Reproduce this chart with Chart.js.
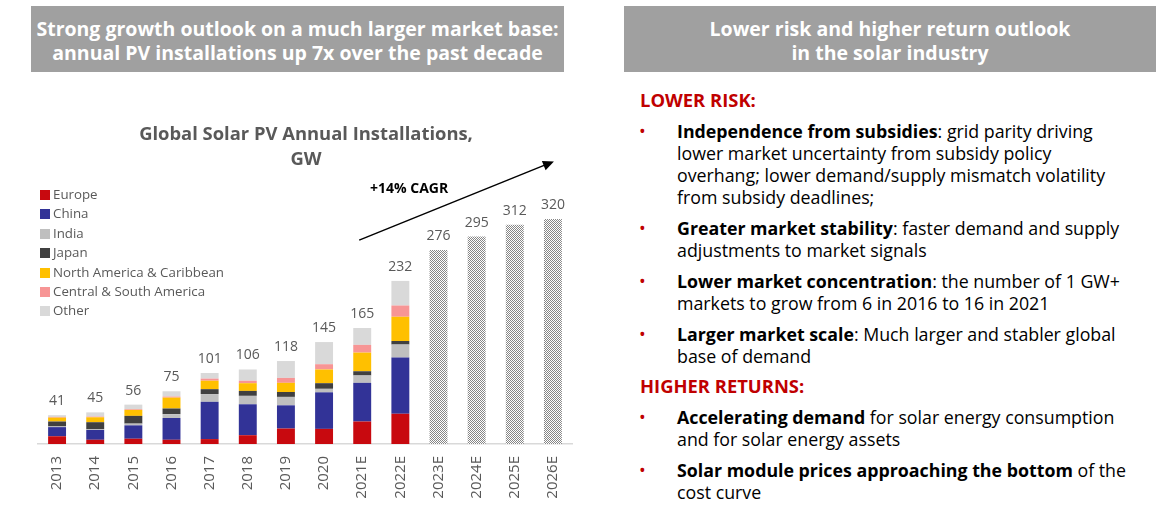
<!DOCTYPE html>
<html>
<head>
<meta charset="utf-8">
<script src="https://cdn.jsdelivr.net/npm/chart.js@4.4.1/dist/chart.umd.min.js"></script>
<style>
    body { margin: 0; width: 1174px; height: 514px; background: #fff; font-family: "Open Sans", sans-serif; position: relative; overflow: hidden; }
    .header { position: absolute; top: 6px; height: 66px; background: #a0a0a0; color: #fff; font-weight: bold; font-size: 19.5px; line-height: 24px; text-align: center; box-sizing: border-box; padding-top: 11px; white-space: nowrap; }
    #chartBox { position: absolute; left: 0; top: 80px; width: 590px; height: 434px; }
    .title { position: absolute; left: 0; width: 612px; top: 120px; text-align: center; font-weight: bold; font-size: 18.4px; line-height: 25px; color: #595959; }
    .legend { position: absolute; left: 40px; top: 185px; font-size: 13.3px; color: #595959; }
    .legend div { height: 19.4px; line-height: 19.4px; white-space: nowrap; }
    .legend span { display: inline-block; width: 10px; height: 10px; margin-right: 3px; vertical-align: -1px; }
    .cagr { position: absolute; left: 370px; top: 178px; font-size: 14px; font-weight: bold; color: #000; }
    .right { position: absolute; left: 620px; top: 89px; width: 554px; font-size: 17.8px; line-height: 22px; color: #000; }
    .right h4 { margin: 0; padding-left: 20px; font-size: 18.4px; color: #c00000; font-weight: bold; white-space: nowrap; }
    .right p { margin: 9px 0 0 0; padding-left: 57px; position: relative; white-space: nowrap; }
    .right p::before { content: "•"; color: #c00000; position: absolute; left: 19px; top: 0; }
    .right h4.second { margin-top: 8px; }
</style>
</head>
<body>
<div class="header" style="left:31px;width:533px;">Strong growth outlook on a much larger market base:<br>annual PV installations up 7x over the past decade</div>
<div class="header" style="left:624px;width:532px;">Lower risk and higher return outlook<br>in the solar industry</div>

<div id="chartBox"><canvas id="pvChart"></canvas></div>
<div class="title">Global Solar PV Annual Installations,<br>GW</div>
<div class="legend" id="legend"></div>
<div class="cagr">+14% CAGR</div>

<div class="right">
    <h4>LOWER RISK:</h4>
    <p><b>Independence from subsidies</b>: grid parity driving<br>lower market uncertainty from subsidy policy<br>overhang; lower demand/supply mismatch volatility<br>from subsidy deadlines;</p>
    <p><b>Greater market stability</b>: faster demand and supply<br>adjustments to market signals</p>
    <p><b>Lower market concentration</b>: the number of 1 GW+<br>markets to grow from 6 in 2016 to 16 in 2021</p>
    <p><b>Larger market scale</b>: Much larger and stabler global<br>base of demand</p>
    <h4 class="second">HIGHER RETURNS:</h4>
    <p><b>Accelerating demand</b> for solar energy consumption<br>and for solar energy assets</p>
    <p><b>Solar module prices approaching the bottom</b> of the<br>cost curve</p>
</div>

<script>
// --- Data ---
const years = ['2013', '2014', '2015', '2016', '2017', '2018', '2019', '2020', '2021E', '2022E', '2023E', '2024E', '2025E', '2026E'];

const europe  = [11,   6,   7.5, 6,   7,  12.5, 22, 21.5, 32,   43];
const china   = [13,   14,  19,  31,  53, 44,   33, 52,   55,   80];
const india   = [1,    1,   2.5, 5.5, 11, 12,   12, 5,    10.5, 18.5];
const japan   = [7,    10,  11,  8,   7,  7,    7,  8,    6,    5];
const nAmerica = [5.5, 7,   8.5, 15.5, 12, 11,  13, 19.5, 26.5, 34.5];
const csAmerica = [1,  1,   1,   1.5, 3,  3.5,  7,  7.5,  11,   16];
const other   = [2.5,  6,   6.5, 7.5, 8,  16,   24, 31.5, 24,   35];
const forecast = [null, null, null, null, null, null, null, null, null, null, 276, 295, 312, 320];

const totals = [41, 45, 56, 75, 101, 106, 118, 145, 165, 232, 276, 295, 312, 320];

const seriesNames = ['Europe', 'China', 'India', 'Japan', 'North America & Caribbean', 'Central & South America', 'Other'];
const seriesColors = ['#c8090f', '#323397', '#bfbfbf', '#404040', '#ffc000', '#f79595', '#d9d9d9'];
const seriesData = [europe, china, india, japan, nAmerica, csAmerica, other];

// --- Hatched fill for forecast bars ---
function makePattern() {
    const c = document.createElement('canvas');
    c.width = 2; c.height = 2;
    const g = c.getContext('2d');
    g.fillStyle = '#ffffff';
    g.fillRect(0, 0, 2, 2);
    g.fillStyle = '#868686';
    g.fillRect(0, 0, 1, 1);
    g.fillRect(1, 1, 1, 1);
    return g.createPattern(c, 'repeat');
}

// --- Legend (html) ---
const legendEl = document.getElementById('legend');
seriesNames.forEach((name, i) => {
    legendEl.innerHTML += `<div><span style="background:${seriesColors[i]}"></span>${name}</div>`;
});

// --- Plugins ---
const totalLabels = {
    id: 'totalLabels',
    afterDatasetsDraw(chart) {
        const ctx = chart.ctx;
        const x = chart.scales.x, y = chart.scales.y;
        ctx.save();
        ctx.font = '14px "Open Sans"';
        ctx.fillStyle = '#595959';
        ctx.textAlign = 'center';
        ctx.textBaseline = 'bottom';
        totals.forEach((t, i) => {
            ctx.fillText(String(t), x.getPixelForValue(i), y.getPixelForValue(t) - 7);
        });
        ctx.restore();
    }
};

const cagrArrow = {
    id: 'cagrArrow',
    afterDraw(chart) {
        const ctx = chart.ctx;
        const x = chart.scales.x, y = chart.scales.y;
        const x0 = x.getPixelForValue(8) - 3, y0 = y.getPixelForValue(290);
        const x1 = x.getPixelForValue(13) + 1, y1 = y.getPixelForValue(402);
        const ang = Math.atan2(y1 - y0, x1 - x0);
        ctx.save();
        ctx.strokeStyle = '#000';
        ctx.fillStyle = '#000';
        ctx.lineWidth = 1.5;
        ctx.beginPath();
        ctx.moveTo(x0, y0);
        ctx.lineTo(x1 - 8 * Math.cos(ang), y1 - 8 * Math.sin(ang));
        ctx.stroke();
        ctx.beginPath();
        ctx.moveTo(x1, y1);
        ctx.lineTo(x1 - 11 * Math.cos(ang) + 5 * Math.sin(ang), y1 - 11 * Math.sin(ang) - 5 * Math.cos(ang));
        ctx.lineTo(x1 - 11 * Math.cos(ang) - 5 * Math.sin(ang), y1 - 11 * Math.sin(ang) + 5 * Math.cos(ang));
        ctx.closePath();
        ctx.fill();
        ctx.restore();
    }
};

// --- Chart ---
const datasets = seriesData.map((d, i) => ({
    label: seriesNames[i],
    data: d,
    backgroundColor: seriesColors[i],
    borderWidth: 0,
    stack: 'pv'
}));
datasets.push({
    label: 'Forecast',
    data: forecast,
    backgroundColor: makePattern(),
    borderWidth: 0,
    stack: 'pv'
});

new Chart(document.getElementById('pvChart'), {
    type: 'bar',
    data: { labels: years, datasets: datasets },
    options: {
        responsive: true,
        maintainAspectRatio: false,
        animation: false,
        layout: { padding: { left: 38, right: 18, top: 80, bottom: 0 } },
        datasets: { bar: { categoryPercentage: 0.47, barPercentage: 1 } },
        scales: {
            x: {
                stacked: true,
                grid: { display: false },
                border: { display: true, color: '#d9d9d9', width: 1.5 },
                ticks: {
                    color: '#595959',
                    font: { family: 'Open Sans', size: 15 },
                    minRotation: 90,
                    maxRotation: 90,
                    padding: 4
                },
                afterFit: s => { s.height = 70; }
            },
            y: {
                stacked: true,
                display: false,
                min: 0,
                max: 404
            }
        },
        plugins: {
            legend: { display: false },
            tooltip: { enabled: false }
        }
    },
    plugins: [totalLabels, cagrArrow]
});
</script>
</body>
</html>
